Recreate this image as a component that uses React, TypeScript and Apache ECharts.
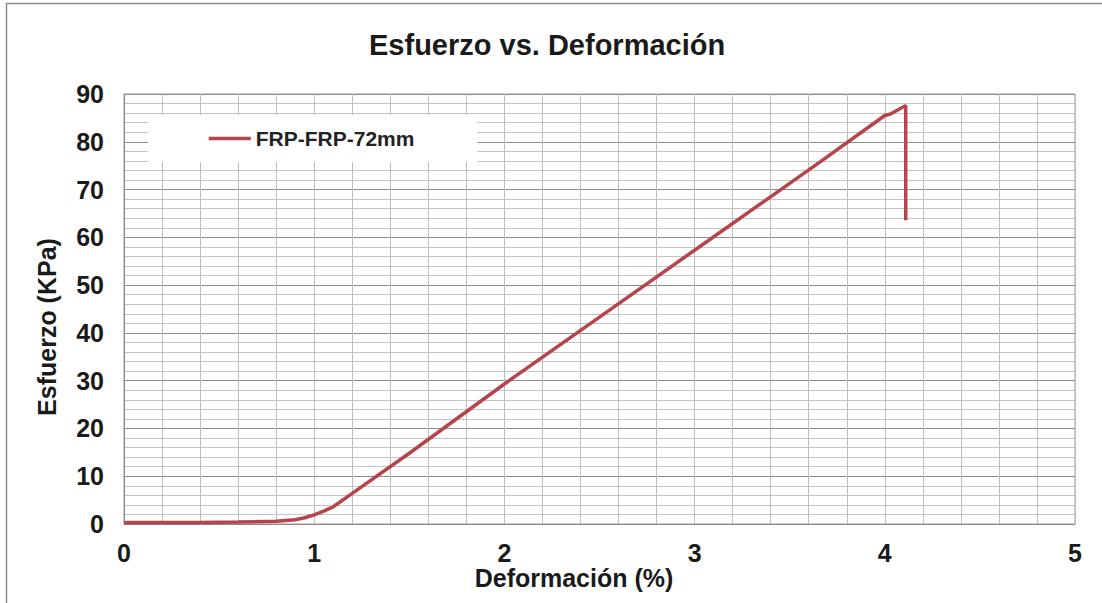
import React, { useEffect, useRef } from "react";
import * as echarts from "echarts";

const deformacion = [0, 0.02, 0.2, 0.4, 0.6, 0.8, 0.9, 0.95, 1.0, 1.05, 1.1, 1.2, 1.5, 2.0, 2.5, 3.0, 3.5, 3.66, 4.0, 4.03, 4.11, 4.11];
const esfuerzo = [0.2, 0.3, 0.3, 0.3, 0.4, 0.6, 0.9, 1.3, 1.9, 2.7, 3.6, 6.4, 14.8, 29.3, 43.3, 57.3, 71.3, 75.8, 85.5, 85.8, 87.6, 63.6];
const seriesName = "FRP-FRP-72mm";
const titleText = "Esfuerzo vs. Deformación";
const xName = "Deformación (%)";
const yName = "Esfuerzo (KPa)";

const FONT = "Liberation Sans, Arial, sans-serif";

export default function App() {
  const ref = useRef<HTMLDivElement>(null);
  useEffect(() => {
    if (!ref.current) return;
    const chart = echarts.init(ref.current, null, { renderer: "svg" });
    const data = deformacion.map((x, i) => [x, esfuerzo[i]]);
    chart.setOption({
      animation: false,
      backgroundColor: "#ffffff",
      title: {
        text: titleText,
        left: 364,
        top: 25,
        textStyle: { fontFamily: FONT, fontWeight: "bold", fontSize: 29, color: "#1a1a1a" },
      },
      legend: {
        left: 148,
        top: 115,
        backgroundColor: "#ffffff",
        padding: [13, 63, 13, 59],
        itemWidth: 42,
        itemHeight: 14,
        itemStyle: { opacity: 0 },
        lineStyle: { width: 3.5, color: "#b5454a" },
        data: [seriesName],
        textStyle: { fontFamily: FONT, fontWeight: "bold", fontSize: 21, color: "#222" },
      },
      grid: {
        left: 124,
        right: 27,
        top: 94,
        bottom: 79,
        show: true,
        borderColor: "#9a9a9a",
        borderWidth: 1,
      },
      xAxis: {
        type: "value",
        min: 0,
        max: 5,
        interval: 1,
        axisLine: { show: true, lineStyle: { color: "#8a8a8a", width: 1 } },
        axisTick: { show: false },
        axisLabel: { margin: 16, fontFamily: FONT, fontWeight: "bold", fontSize: 25, color: "#1a1a1a" },
        splitLine: { show: true, lineStyle: { color: "#bdbdbd", width: 1 } },
        minorTick: { show: false, splitNumber: 5 },
        minorSplitLine: { show: true, lineStyle: { color: "#bdbdbd", width: 1 } },
      },
      yAxis: {
        type: "value",
        min: 0,
        max: 90,
        interval: 10,
        axisLine: { show: true, lineStyle: { color: "#8a8a8a", width: 1 } },
        axisTick: { show: false },
        axisLabel: { margin: 20, fontFamily: FONT, fontWeight: "bold", fontSize: 25, color: "#1a1a1a" },
        splitLine: { show: true, lineStyle: { color: "#8e8e8e", width: 1 } },
        minorTick: { show: false, splitNumber: 5 },
        minorSplitLine: { show: true, lineStyle: { color: "#c4c4c4", width: 1 } },
      },
      series: [
        {
          name: seriesName,
          type: "line",
          data,
          symbol: "none",
          smooth: false,
          lineStyle: { color: "#b5454a", width: 3.5 },
          itemStyle: { color: "#b5454a" },
        },
      ],
      graphic: [
        {
          type: "rect",
          silent: true,
          shape: { x: 6.5, y: 3.5, width: 1300, height: 800 },
          style: { fill: "none", stroke: "#8c8c8c", lineWidth: 1.5 },
          z: 100,
        },
        {
          type: "text",
          x: 574,
          y: 578,
          style: {
            text: xName,
            font: `bold 25px ${FONT}`,
            fill: "#1a1a1a",
            align: "center",
            verticalAlign: "middle",
          },
        },
        {
          type: "text",
          x: 47,
          y: 327,
          rotation: Math.PI / 2,
          style: {
            text: yName,
            font: `bold 25px ${FONT}`,
            fill: "#1a1a1a",
            align: "center",
            verticalAlign: "middle",
          },
        },
      ],
    });
    return () => chart.dispose();
  }, []);
  return (
    <div
      ref={ref}
      style={{ position: "fixed", left: 0, top: 0, width: 1102, height: 603 }}
    />
  );
}
